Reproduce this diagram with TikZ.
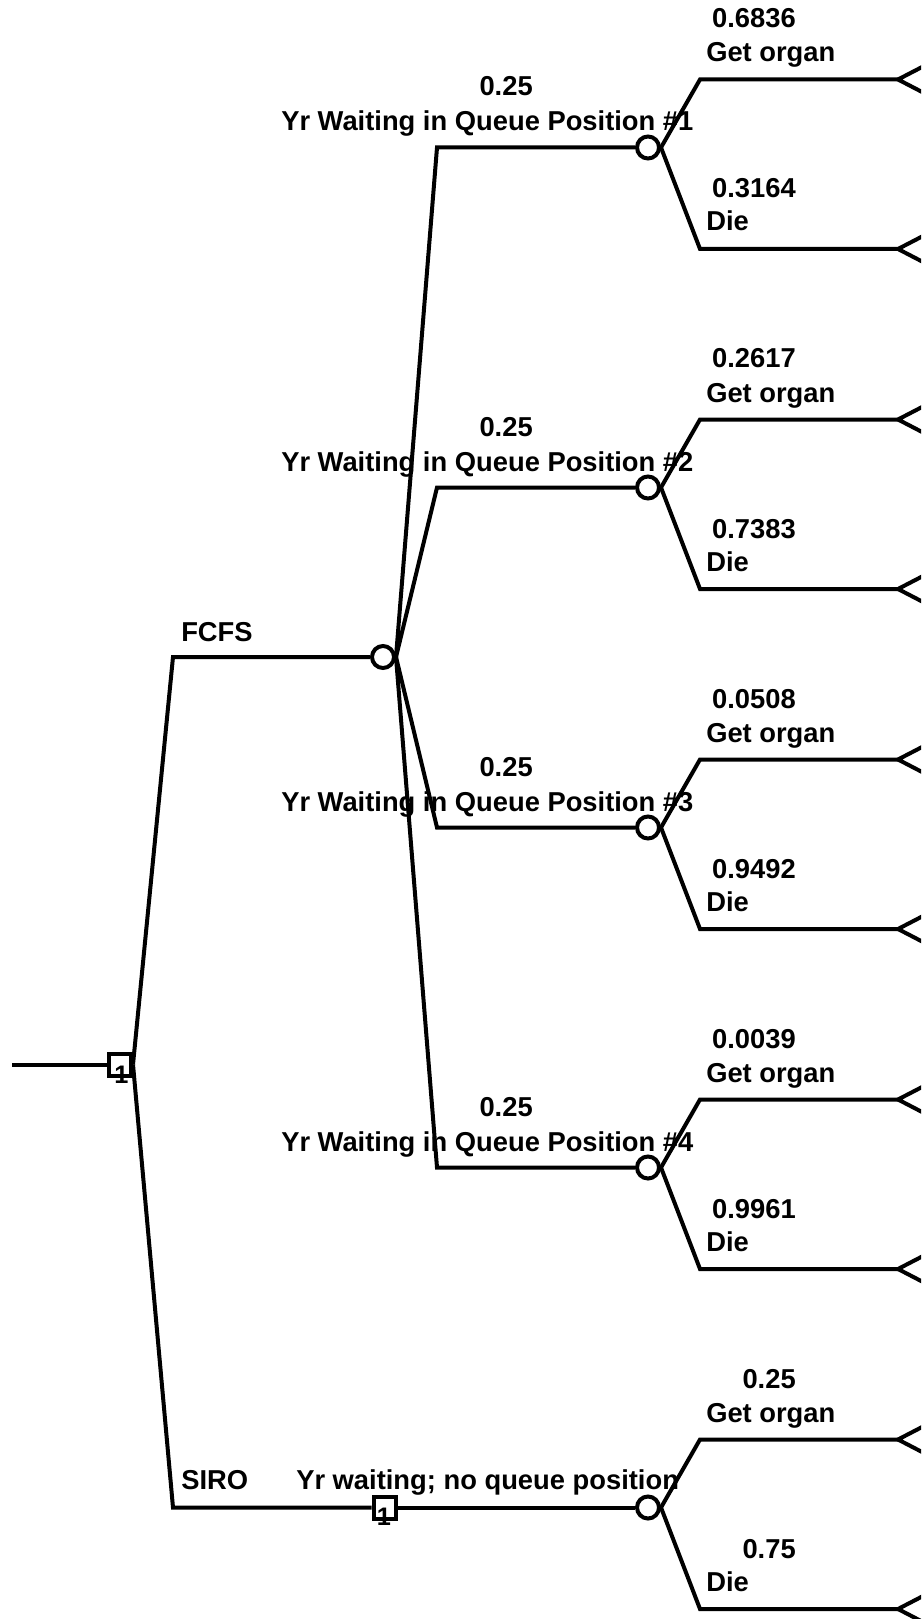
\documentclass[tikz,border=0pt]{standalone}
\usepackage{fontspec}
\setmainfont{Liberation Sans}
\begin{document}
\begin{tikzpicture}[x=0.75pt,y=-0.75pt,
 wire/.style={line width=3pt},
 chance/.style={circle,draw,line width=3pt,fill=white,minimum size=16.5pt,inner sep=0pt},
 decision/.style={rectangle,draw,line width=3pt,fill=white,minimum size=16.5pt,inner sep=0pt},
 lbl/.style={font=\bfseries\fontsize{20.5}{24}\selectfont,inner sep=0pt},
 sqnum/.style={font=\bfseries\fontsize{19}{22}\selectfont,inner sep=0pt,anchor=base},
 term/.style={line width=3pt}]
\fill[white] (0,0) rectangle (921,1619);
\clip (0,0) rectangle (921,1619);
% decision and chance nodes
\node[decision] (d0) at (120,1064.5) {};
\node[chance] (c0) at (383,657) {};
\node[decision] (d1) at (384.5,1507.5) {};
\node[chance] (c5) at (648,1507.5) {};
\coordinate (start) at (12,1064.5);
\draw[wire] (start) -- (d0.west);
\draw[wire] (d0.east) -- (173,657) -- (c0.west);
\draw[wire] (d0.east) -- (173,1507.5) -- (d1.west);
\draw[wire] (d1.east) -- (c5.west);
\node[sqnum] (d0n) at (121.5,1083) {1};
\node[sqnum] (d1n) at (384,1525) {1};
\node[lbl,anchor=base west] (fcfs) at (181,641) {FCFS};
\node[lbl,anchor=base west] (siro) at (181,1489) {SIRO};
\node[lbl,anchor=base west] (n5) at (296,1489) {Yr waiting; no queue position};
% level 1
\foreach \i in {1,2,3,4} {
  \pgfmathsetmacro\ya{147.5+340*(\i-1)}
  \node[chance] (c\i) at (648,\ya) {};
  \draw[wire] (c0.east) -- (437,\ya) -- (c\i.west);
  \node[lbl,anchor=base east] (p\i) at (533,\ya-51.5) {0.25};
  \node[lbl,anchor=base west] (n\i) at (281,\ya-16.5) {Yr Waiting in Queue Position \#\i};
}
% level 2
\foreach \i/\pa/\pb in {1/0.6836/0.3164,2/0.2617/0.7383,3/0.0508/0.9492,4/0.0039/0.9961,5/0.25/0.75} {
  \pgfmathsetmacro\ya{147.5+340*(\i-1)}
  \pgfmathsetmacro\yg{\ya-68}
  \pgfmathsetmacro\yd{\ya+101.5}
  \coordinate (tg\i) at (898,\yg);
  \coordinate (td\i) at (898,\yd);
  \draw[wire] (c\i.east) -- (700,\yg) -- (tg\i);
  \draw[wire] (c\i.east) -- (700,\yd) -- (td\i);
  \draw[term] (tg\i) -- ++(26,-13.5) -- ++(0,27) -- cycle;
  \draw[term] (td\i) -- ++(26,-13.5) -- ++(0,27) -- cycle;
  \node[lbl,anchor=base east] (pg\i) at (796,\yg-51.5) {\pa};
  \node[lbl,anchor=base west] (ng\i) at (706,\yg-17.5) {Get organ};
  \node[lbl,anchor=base east] (pd\i) at (796,\yd-51) {\pb};
  \node[lbl,anchor=base west] (nd\i) at (706,\yd-18) {Die};
}
\end{tikzpicture}
\end{document}
